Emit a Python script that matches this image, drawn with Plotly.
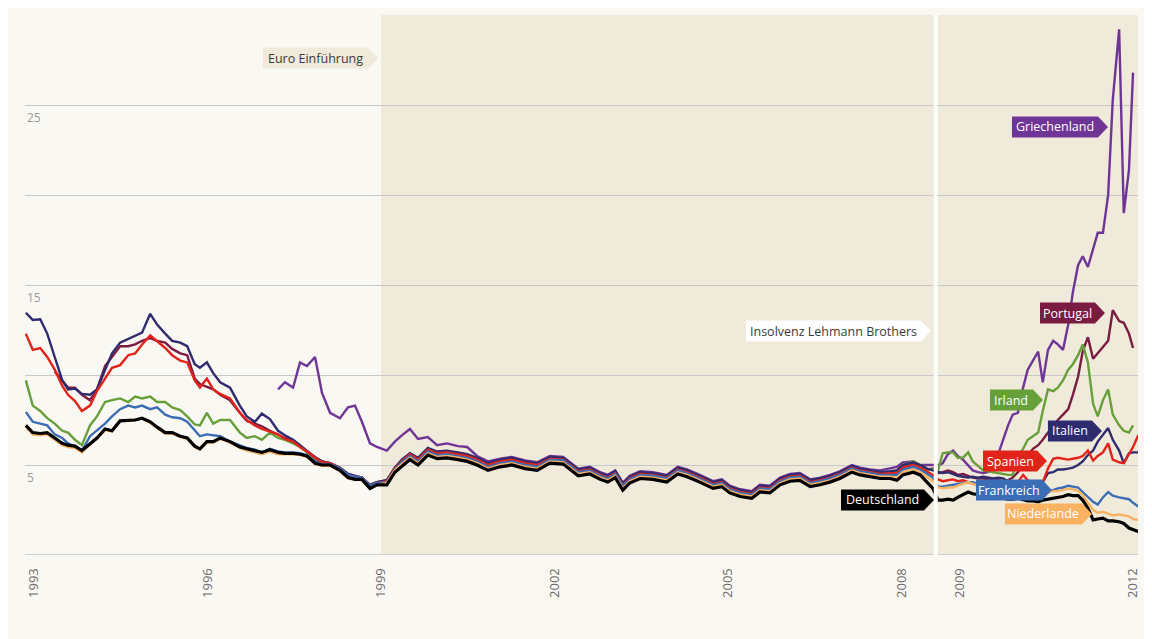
import plotly.graph_objects as go

# ---------------- x grids (decimal years) ----------------
X_EARLY = [1992.86, 1992.98, 1993.11, 1993.23, 1993.36, 1993.49, 1993.59, 1993.71, 1993.83, 1993.97,
           1994.09, 1994.23, 1994.35, 1994.49, 1994.63, 1994.75, 1994.87, 1995.01, 1995.13, 1995.27,
           1995.39, 1995.53, 1995.65, 1995.78, 1995.87, 1995.99, 1996.10, 1996.22, 1996.39, 1996.56,
           1996.68, 1996.82, 1996.94, 1997.08, 1997.22, 1997.34, 1997.48, 1997.60, 1997.72, 1997.86,
           1997.98, 1998.12, 1998.29, 1998.43, 1998.55, 1998.67, 1998.81, 1998.93]
X_MID = [1999.10, 1999.24, 1999.36, 1999.50, 1999.64, 1999.81, 1999.97, 2000.14, 2000.33, 2000.49,
         2000.66, 2000.85, 2001.06, 2001.26, 2001.49, 2001.70, 2001.92, 2002.15, 2002.41, 2002.61,
         2002.79, 2002.92, 2003.05, 2003.18, 2003.30, 2003.48, 2003.70, 2003.94, 2004.13, 2004.29,
         2004.51, 2004.74, 2004.89, 2005.03, 2005.21, 2005.41, 2005.55, 2005.72, 2005.90, 2006.07,
         2006.24, 2006.42, 2006.59, 2006.76, 2006.93, 2007.14, 2007.28, 2007.45, 2007.63, 2007.80,
         2007.92, 2008.02, 2008.20, 2008.32, 2008.44]
X_LATE = [2008.54, 2008.63, 2008.71, 2008.80, 2008.89, 2008.97, 2009.06, 2009.15, 2009.23, 2009.32,
          2009.41, 2009.49, 2009.58, 2009.67, 2009.75, 2009.84, 2009.92, 2010.01, 2010.10, 2010.18,
          2010.27, 2010.36, 2010.44, 2010.53, 2010.62, 2010.70, 2010.79, 2010.88, 2010.96, 2011.05,
          2011.13, 2011.22, 2011.31, 2011.39, 2011.48, 2011.57, 2011.65, 2011.76, 2011.84, 2011.93,
          2012.00, 2012.09]

# ---------------- yields (%) ----------------
DE_EARLY = [7.2, 6.8, 6.75, 6.8, 6.5, 6.2, 6.1, 6.05, 5.8, 6.2,
            6.5, 7.0, 6.9, 7.45, 7.5, 7.5, 7.6, 7.4, 7.1, 6.8,
            6.8, 6.6, 6.5, 6.05, 5.9, 6.3, 6.3, 6.5, 6.3, 6.0,
            5.9, 5.8, 5.7, 5.85, 5.7, 5.65, 5.65, 5.6, 5.5, 5.1,
            5.0, 5.0, 4.7, 4.3, 4.2, 4.2, 3.7, 3.9]
DE_MID = [3.9, 4.6, 4.95, 5.3, 5.0, 5.55, 5.35, 5.4, 5.3, 5.2,
          5.0, 4.7, 4.9, 5.0, 4.8, 4.7, 5.1, 5.05, 4.4, 4.5,
          4.2, 4.05, 4.3, 3.6, 4.0, 4.25, 4.2, 4.05, 4.5, 4.35,
          4.05, 3.7, 3.8, 3.45, 3.25, 3.15, 3.5, 3.45, 3.9, 4.1,
          4.15, 3.8, 3.9, 4.05, 4.25, 4.6, 4.45, 4.35, 4.25, 4.25,
          4.15, 4.45, 4.6, 4.45, 4.05]
DE_LATE = [3.7, 3.05, 3.05, 3.1, 3.05, 3.2, 3.35, 3.5, 3.4, 3.35,
           3.3, 3.25, 3.3, 3.2, 3.15, 3.1, 3.1, 3.15, 3.05, 3.0,
           3.0, 2.95, 3.05, 3.1, 3.15, 3.2, 3.25, 3.35, 3.3, 3.3,
           3.05, 2.6, 1.95, 2.0, 2.05, 1.9, 1.9, 1.85, 1.75, 1.5,
           1.4, 1.3]

NL_EARLY = [7.1, 6.7, 6.65, 6.7, 6.4, 6.1, 6.0, 5.95, 5.7, 6.15,
            6.45, 6.95, 6.85, 7.45, 7.5, 7.5, 7.6, 7.35, 7.05, 6.75,
            6.75, 6.55, 6.45, 6.0, 5.85, 6.25, 6.25, 6.45, 6.25, 5.95,
            5.8, 5.7, 5.6, 5.75, 5.6, 5.6, 5.6, 5.55, 5.45, 5.05,
            4.95, 4.95, 4.65, 4.25, 4.2, 4.15, 3.7, 3.9]
NL_MID = [4.0, 4.7, 5.05, 5.4, 5.1, 5.65, 5.45, 5.5, 5.4, 5.3,
          5.1, 4.8, 5.0, 5.1, 4.9, 4.8, 5.2, 5.15, 4.5, 4.6,
          4.3, 4.15, 4.4, 3.7, 4.1, 4.35, 4.3, 4.15, 4.6, 4.45,
          4.15, 3.8, 3.9, 3.55, 3.35, 3.25, 3.6, 3.55, 4.0, 4.2,
          4.25, 3.9, 4.0, 4.15, 4.35, 4.7, 4.55, 4.45, 4.35, 4.35,
          4.3, 4.6, 4.75, 4.6, 4.3]
NL_LATE = [4.1, 3.75, 3.7, 3.75, 3.75, 3.85, 3.95, 4.05, 3.95, 3.85,
           3.8, 3.75, 3.75, 3.7, 3.65, 3.6, 3.55, 3.6, 3.55, 3.5,
           3.45, 3.4, 3.45, 3.5, 3.55, 3.55, 3.6, 3.7, 3.65, 3.55,
           3.35, 2.9, 2.5, 2.35, 2.4, 2.3, 2.2, 2.25, 2.2, 2.15,
           2.0, 1.95]

FR_EARLY = [7.95, 7.4, 7.3, 7.2, 6.7, 6.5, 6.2, 6.0, 5.8, 6.6,
            6.9, 7.3, 7.7, 8.1, 8.3, 8.2, 8.3, 8.1, 8.2, 7.8,
            7.65, 7.6, 7.4, 6.9, 6.6, 6.7, 6.65, 6.6, 6.3, 6.1,
            5.95, 5.85, 5.7, 5.9, 5.75, 5.7, 5.7, 5.65, 5.55, 5.2,
            5.05, 5.05, 4.8, 4.45, 4.35, 4.3, 3.85, 4.0]
FR_MID = [4.05, 4.75, 5.15, 5.5, 5.2, 5.75, 5.55, 5.6, 5.5, 5.4,
          5.2, 4.9, 5.1, 5.2, 5.0, 4.9, 5.3, 5.25, 4.6, 4.7,
          4.4, 4.25, 4.5, 3.85, 4.2, 4.45, 4.4, 4.25, 4.7, 4.55,
          4.25, 3.9, 4.0, 3.65, 3.45, 3.35, 3.7, 3.65, 4.1, 4.3,
          4.35, 4.0, 4.1, 4.25, 4.45, 4.8, 4.65, 4.55, 4.45, 4.45,
          4.45, 4.75, 4.9, 4.75, 4.5]
FR_LATE = [4.3, 3.8, 3.8, 3.85, 3.9, 3.95, 4.0, 4.05, 4.05, 3.95,
           3.9, 3.85, 3.8, 3.75, 3.7, 3.6, 3.5, 3.55, 3.5, 3.45,
           3.4, 3.35, 3.4, 3.5, 3.6, 3.7, 3.75, 3.85, 3.8, 3.75,
           3.5, 3.2, 2.95, 2.8, 3.2, 3.5, 3.3, 3.2, 3.15, 3.1,
           2.9, 2.7]

IE_EARLY = [9.7, 8.3, 8.0, 7.6, 7.3, 6.9, 6.8, 6.4, 6.1, 7.2,
            7.7, 8.5, 8.6, 8.7, 8.5, 8.8, 8.7, 8.8, 8.5, 8.5,
            8.2, 8.05, 7.7, 7.25, 7.2, 7.9, 7.3, 7.5, 7.5, 6.8,
            6.5, 6.6, 6.4, 6.8, 6.5, 6.4, 6.2, 6.0, 5.7, 5.3,
            5.1, 5.05, 4.75, 4.4, 4.3, 4.25, 3.85, 4.0]
IE_MID = [4.0, 4.7, 5.1, 5.45, 5.15, 5.7, 5.5, 5.55, 5.45, 5.35,
          5.15, 4.85, 5.05, 5.15, 4.95, 4.85, 5.25, 5.2, 4.55, 4.65,
          4.35, 4.2, 4.45, 3.75, 4.05, 4.4, 4.35, 4.2, 4.6, 4.45,
          4.15, 3.75, 3.85, 3.45, 3.25, 3.2, 3.6, 3.55, 4.0, 4.2,
          4.3, 3.95, 4.05, 4.2, 4.4, 4.75, 4.6, 4.55, 4.55, 4.6,
          4.7, 5.0, 5.2, 5.0, 4.75]
IE_LATE = [4.75, 4.7, 5.65, 5.7, 5.7, 5.4, 5.4, 5.7, 5.2, 4.95,
           4.7, 4.65, 4.6, 4.55, 4.5, 4.45, 4.45, 5.4, 5.9, 6.4,
           6.6, 6.8, 8.0, 9.2, 9.1, 9.3, 9.7, 10.3, 10.6, 11.1,
           11.7, 10.7, 8.4, 7.7, 8.6, 9.2, 7.8, 7.2, 6.9, 6.8,
           7.2, None]

ES_EARLY = [12.3, 11.4, 11.5, 11.0, 10.3, 9.4, 8.9, 8.55, 8.0, 8.3,
            9.1, 9.8, 10.4, 10.55, 11.1, 11.2, 11.7, 12.2, 11.9, 11.5,
            11.1, 10.8, 10.7, 9.7, 9.3, 9.8, 9.2, 8.95, 8.7, 7.9,
            7.5, 7.2, 7.0, 6.85, 6.7, 6.45, 6.3, 6.0, 5.75, 5.4,
            5.15, 5.1, 4.8, 4.45, 4.35, 4.3, 3.85, 4.0]
ES_MID = [4.1, 4.8, 5.2, 5.6, 5.3, 5.85, 5.65, 5.7, 5.6, 5.5,
          5.3, 5.0, 5.2, 5.3, 5.1, 5.0, 5.35, 5.3, 4.65, 4.75,
          4.45, 4.3, 4.55, 3.9, 4.25, 4.5, 4.45, 4.3, 4.75, 4.6,
          4.3, 3.95, 4.05, 3.7, 3.5, 3.4, 3.75, 3.7, 4.15, 4.35,
          4.4, 4.05, 4.15, 4.3, 4.5, 4.85, 4.7, 4.6, 4.5, 4.55,
          4.55, 4.85, 5.0, 4.85, 4.65]
ES_LATE = [4.45, 4.2, 4.1, 4.15, 4.2, 4.1, 4.15, 4.05, 3.95, 3.9,
           3.9, 3.95, 3.9, 3.85, 3.85, 3.9, 3.95, 4.05, 4.45, 4.15,
           4.05, 4.1, 4.05, 4.8, 5.35, 5.4, 5.35, 5.3, 5.35, 5.4,
           5.5, 5.8, 5.25, 5.5, 5.7, 6.2, 5.3, 5.15, 5.1, 5.6,
           6.0, 6.65]

IT_EARLY = [13.46, 13.06, 13.1, 12.3, 11.0, 9.7, 9.2, 9.25, 8.95, 8.9,
            9.2, 10.3, 11.2, 11.8, 12.0, 12.2, 12.35, 13.4, 12.8, 12.3,
            11.9, 11.8, 11.6, 10.6, 10.4, 10.7, 10.1, 9.6, 9.3, 8.3,
            7.7, 7.4, 7.85, 7.55, 6.9, 6.65, 6.4, 6.1, 5.8, 5.4,
            5.2, 5.1, 4.85, 4.5, 4.4, 4.3, 3.9, 4.05]
IT_MID = [4.15, 4.85, 5.3, 5.65, 5.4, 5.95, 5.75, 5.8, 5.7, 5.6,
          5.4, 5.1, 5.3, 5.4, 5.2, 5.1, 5.45, 5.4, 4.75, 4.85,
          4.55, 4.4, 4.65, 4.0, 4.35, 4.6, 4.55, 4.4, 4.85, 4.7,
          4.4, 4.05, 4.15, 3.8, 3.6, 3.5, 3.85, 3.8, 4.25, 4.45,
          4.5, 4.15, 4.25, 4.4, 4.6, 4.95, 4.8, 4.7, 4.6, 4.65,
          4.7, 5.0, 5.15, 5.0, 4.8]
IT_LATE = [4.7, 4.6, 4.55, 4.6, 4.5, 4.4, 4.35, 4.3, 4.35, 4.3,
           4.35, 4.3, 4.25, 4.3, 4.25, 4.1, 4.0, 4.05, 4.05, 3.95,
           3.95, 3.9, 4.05, 4.55, 4.6, 4.75, 4.75, 4.8, 4.85, 5.0,
           5.2, 5.55, 5.8, 6.3, 6.7, 7.05, 6.4, 5.8, 5.1, 5.65,
           5.7, 5.7]

PT_EARLY = [None, None, None, None, 10.2, 9.7, 9.3, 9.3, 8.9, 8.6,
            9.2, 10.5, 11.0, 11.6, 11.6, 11.7, 11.9, 12.05, 11.9, 11.8,
            11.45, 11.2, 11.1, 9.8, 9.5, 9.35, 9.2, 8.9, 8.6, 7.9,
            7.45, 7.3, 7.15, 6.9, 6.7, 6.5, 6.35, 6.05, 5.8, 5.45,
            5.2, 5.1, 4.85, 4.5, 4.4, 4.3, 3.9, 4.05]
PT_MID = [4.15, 4.85, 5.25, 5.6, 5.35, 5.9, 5.7, 5.75, 5.65, 5.55,
          5.35, 5.05, 5.25, 5.35, 5.15, 5.05, 5.4, 5.35, 4.7, 4.8,
          4.5, 4.35, 4.6, 3.95, 4.3, 4.55, 4.5, 4.35, 4.8, 4.65,
          4.35, 4.0, 4.1, 3.75, 3.55, 3.45, 3.8, 3.75, 4.2, 4.4,
          4.45, 4.1, 4.2, 4.35, 4.55, 4.9, 4.75, 4.65, 4.55, 4.6,
          4.6, 4.95, 5.1, 4.95, 4.75]
PT_LATE = [4.8, 4.55, 4.6, 4.7, 4.6, 4.45, 4.5, 4.4, 4.3, 4.25,
           4.25, 4.2, 4.2, 4.15, 4.1, 4.15, 4.3, 4.6, 5.1, 5.5,
           5.9, 6.1, 6.4, 6.8, 7.1, 7.5, 7.8, 8.1, 8.9, 9.9,
           11.3, 12.1, 10.9, 11.2, 11.6, 11.9, 13.6, 13.0, 12.9, 12.3,
           11.5, None]

GR_EARLY = [None] * 34 + [9.2, 9.6, 9.3, 10.7, 10.5, 11.0,
                          9.0, 7.9, 7.6, 8.2, 8.3, 7.4, 6.2, 6.0]
GR_MID = [5.8, 6.3, 6.65, 7.0, 6.45, 6.55, 6.1, 6.2, 6.05, 6.0,
          5.5, 5.2, 5.35, 5.45, 5.25, 5.15, 5.5, 5.45, 4.8, 4.9,
          4.6, 4.45, 4.7, 4.0, 4.4, 4.65, 4.6, 4.45, 4.9, 4.75,
          4.45, 4.1, 4.2, 3.85, 3.65, 3.55, 3.9, 3.85, 4.3, 4.5,
          4.55, 4.2, 4.3, 4.45, 4.65, 5.0, 4.85, 4.75, 4.7, 4.8,
          4.9, 5.15, 5.2, 5.0, 5.0]
GR_LATE = [5.0, 5.0, 5.1, 5.6, 5.8, 5.5, 5.3, 5.0, 4.7, 4.6,
           4.55, 4.6, 4.8, 5.6, 6.4, 7.2, 7.8, 7.9, 9.3, 10.3,
           10.8, 11.3, 9.6, 11.4, 11.9, 11.7, 11.4, 12.8, 14.6, 16.1,
           16.6, 16.0, 17.0, 17.9, 17.9, 20.0, 25.3, 29.2, 19.0, 21.4,
           26.8, None]

COUNTRIES = ["Griechenland", "Portugal", "Irland", "Italien", "Spanien",
             "Frankreich", "Niederlande", "Deutschland"]
COLORS = {"Deutschland": "#000000", "Niederlande": "#F9B262", "Frankreich": "#3A6DB5",
          "Spanien": "#E2231A", "Italien": "#2E2B6E", "Irland": "#67A03B",
          "Portugal": "#7A1B42", "Griechenland": "#6F3596"}
SERIES = {
    "Deutschland": DE_EARLY + DE_MID + DE_LATE,
    "Niederlande": NL_EARLY + NL_MID + NL_LATE,
    "Frankreich": FR_EARLY + FR_MID + FR_LATE,
    "Spanien": ES_EARLY + ES_MID + ES_LATE,
    "Italien": IT_EARLY + IT_MID + IT_LATE,
    "Irland": IE_EARLY + IE_MID + IE_LATE,
    "Portugal": PT_EARLY + PT_MID + PT_LATE,
    "Griechenland": GR_EARLY + GR_MID + GR_LATE,
}
X_ALL = X_EARLY + X_MID + X_LATE

XTICKS = [1993, 1996, 1999, 2002, 2005, 2008, 2009, 2012]
YLABELS = [5, 15, 25]
EURO_START = 1999.0
LEHMANN = 2008.59

BG = "#FAF8F3"
SHADE = "#F0EADA"
FONT = "Open Sans"

fig = go.Figure()
for c in COUNTRIES:
    fig.add_trace(go.Scatter(
        x=X_ALL, y=SERIES[c], mode="lines", name=c,
        line=dict(color=COLORS[c], width=3.2 if c == "Deutschland" else 2.4),
        connectgaps=False, hoverinfo="skip", showlegend=False))

shapes = [
    dict(type="rect", xref="x", yref="paper", x0=EURO_START, x1=2012.086, y0=0, y1=1,
         fillcolor=SHADE, line=dict(width=0), layer="below"),
    dict(type="line", xref="paper", yref="y", x0=0, x1=1, y0=0, y1=0,
         line=dict(color="#D0D0D0", width=2), layer="below"),
    dict(type="line", xref="x", yref="paper", x0=LEHMANN, x1=LEHMANN, y0=0, y1=1,
         line=dict(color="#FFFFFF", width=4), layer="above"),
]
annotations = []

for v in YLABELS:
    annotations.append(dict(xref="paper", yref="y", x=0, y=v, xanchor="left", yanchor="top",
                            yshift=-2, text=str(v), showarrow=False,
                            font=dict(family=FONT, size=12, color="#9A9A9A")))


def tag(x, y, w, fill, text, tcolor):
    shapes.append(dict(type="path", xref="x", yref="y", xsizemode="pixel", ysizemode="pixel",
                       xanchor=x, yanchor=y,
                       path=f"M0,0 L-10,-10.5 L-{w},-10.5 L-{w},10.5 L-10,10.5 Z",
                       fillcolor=fill, line=dict(width=0), layer="above"))
    annotations.append(dict(xref="x", yref="y", x=x, y=y, xanchor="center", yanchor="middle",
                            xshift=-(w + 10) / 2, text=text, showarrow=False,
                            font=dict(family=FONT, size=12.5, color=tcolor)))


tag(1998.948, 27.61, 115, SHADE, "Euro Einführung", "#3A3A3A")
tag(2008.507, 12.44, 185, "#FFFFFF", "Insolvenz Lehmann Brothers", "#3A3A3A")
tag(2011.567, 23.78, 96, COLORS["Griechenland"], "Griechenland", "#FFFFFF")
tag(2011.515, 13.44, 65, COLORS["Portugal"], "Portugal", "#FFFFFF")
tag(2010.443, 8.61, 53, COLORS["Irland"], "Irland", "#FFFFFF")
tag(2011.463, 6.89, 54, COLORS["Italien"], "Italien", "#FFFFFF")
tag(2010.513, 5.22, 64, COLORS["Spanien"], "Spanien", "#FFFFFF")
tag(2010.599, 3.61, 76, COLORS["Frankreich"], "Frankreich", "#FFFFFF")
tag(2011.290, 2.28, 87, COLORS["Niederlande"], "Niederlande", "#FFFFFF")
tag(2008.559, 3.06, 93, COLORS["Deutschland"], "Deutschland", "#FFFFFF")

# the page puts the figure 8 px in from the top-left corner
fig.update_layout(
    width=1144, height=631, autosize=False,
    margin=dict(l=17, r=14, t=7, b=84),
    paper_bgcolor=BG, plot_bgcolor=BG,
    shapes=shapes, annotations=annotations,
    xaxis=dict(range=[1992.846, 2012.086], tickvals=XTICKS, ticktext=[str(t) for t in XTICKS],
               tickangle=-90, showgrid=False, zeroline=False, showline=False,
               ticks="outside", ticklen=7, tickcolor="rgba(0,0,0,0)",
               tickfont=dict(family=FONT, size=13, color="#6A6A6A")),
    yaxis=dict(range=[0, 30], tickvals=[0, 5, 10, 15, 20, 25, 30], showticklabels=False,
               showgrid=True, gridcolor="#C8C8C8", gridwidth=1, zeroline=False, showline=False),
)

fig.write_html("out.html")
